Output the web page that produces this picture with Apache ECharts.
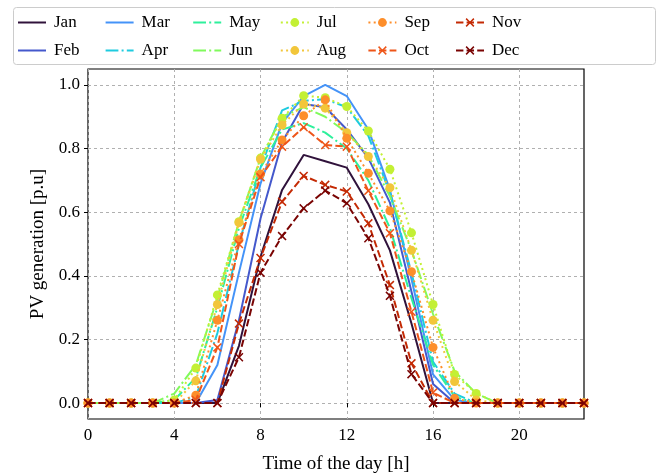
<!DOCTYPE html>
<html lang="en">
<head>
    <meta charset="utf-8">
    <title>PV generation by month</title>
    <script src="https://cdn.jsdelivr.net/npm/echarts@6/dist/echarts.min.js"></script>
    <style>
        html, body { margin: 0; padding: 0; background: #fff; }
        #main { width: 663px; height: 473px; }
    </style>
</head>
<body>
<div id="main"></div>
<script>
    // hour of the day (x values)
    var hours = [0, 1, 2, 3, 4, 5, 6, 7, 8, 9, 10, 11, 12, 13, 14, 15, 16, 17, 18, 19, 20, 21, 22, 23];
    var xTicks = [0, 4, 8, 12, 16, 20];
    var yTicks = [0, 0.2, 0.4, 0.6, 0.8, 1.0];
    var months = ['Jan', 'Feb', 'Mar', 'Apr', 'May', 'Jun', 'Jul', 'Aug', 'Sep', 'Oct', 'Nov', 'Dec'];

    // PV generation [p.u]
    var jan = [0, 0, 0, 0, 0, 0, 0, 0.18, 0.46, 0.67, 0.78, 0.76, 0.74, 0.625, 0.48, 0.25, 0, 0, 0, 0, 0, 0, 0, 0];
    var feb = [0, 0, 0, 0, 0, 0, 0.01, 0.26, 0.58, 0.82, 0.94, 0.93, 0.86, 0.77, 0.63, 0.35, 0.06, 0, 0, 0, 0, 0, 0, 0];
    var mar = [0, 0, 0, 0, 0, 0, 0.12, 0.41, 0.69, 0.88, 0.965, 1.0, 0.965, 0.86, 0.67, 0.39, 0.09, 0.01, 0, 0, 0, 0, 0, 0];
    var apr = [0, 0, 0, 0, 0, 0.02, 0.22, 0.5, 0.74, 0.92, 0.95, 0.955, 0.93, 0.84, 0.66, 0.41, 0.13, 0.03, 0, 0, 0, 0, 0, 0];
    var may = [0, 0, 0, 0, 0.01, 0.08, 0.3, 0.55, 0.74, 0.86, 0.88, 0.85, 0.8, 0.7, 0.55, 0.33, 0.12, 0.02, 0, 0, 0, 0, 0, 0];
    var jun = [0, 0, 0, 0, 0.03, 0.12, 0.33, 0.57, 0.77, 0.9, 0.93, 0.9, 0.85, 0.78, 0.65, 0.48, 0.28, 0.1, 0.03, 0, 0, 0, 0, 0];
    var jul = [0, 0, 0, 0, 0.01, 0.11, 0.34, 0.57, 0.77, 0.895, 0.966, 0.96, 0.932, 0.855, 0.735, 0.535, 0.31, 0.09, 0.03, 0, 0, 0, 0, 0];
    var aug = [0, 0, 0, 0, 0, 0.07, 0.31, 0.567, 0.766, 0.874, 0.94, 0.927, 0.85, 0.775, 0.677, 0.48, 0.26, 0.068, 0.01, 0, 0, 0, 0, 0];
    var sep = [0, 0, 0, 0, 0, 0.025, 0.26, 0.513, 0.72, 0.827, 0.903, 0.953, 0.832, 0.722, 0.604, 0.413, 0.175, 0.015, 0, 0, 0, 0, 0, 0];
    var oct = [0, 0, 0, 0, 0, 0.01, 0.175, 0.5, 0.71, 0.806, 0.867, 0.811, 0.806, 0.667, 0.534, 0.287, 0.033, 0, 0, 0, 0, 0, 0, 0];
    var nov = [0, 0, 0, 0, 0, 0, 0, 0.25, 0.456, 0.633, 0.714, 0.686, 0.665, 0.565, 0.371, 0.125, 0, 0, 0, 0, 0, 0, 0, 0];
    var dec = [0, 0, 0, 0, 0, 0, 0, 0.144, 0.41, 0.525, 0.612, 0.668, 0.628, 0.518, 0.337, 0.091, 0, 0, 0, 0, 0, 0, 0, 0];

    var allData = [jan, feb, mar, apr, may, jun, jul, aug, sep, oct, nov, dec];
    var colors = ['#30123b', '#4458cc', '#4493f8', '#1ecbdf', '#2ef09c', '#80fa5c',
                  '#c3f034', '#f2c63a', '#fd8e2b', '#ee5518', '#c42a04', '#7a0403'];

    // matplotlib-like dash patterns (lw 2)
    var DASHDOT = [12.8, 3.2, 2, 3.2];
    var DOTTED = [2, 3.3];
    var DASHED = [7.4, 3.2];
    var XMARK = 'path://M0,1.2L1.2,0L5,3.8L8.8,0L10,1.2L6.2,5L10,8.8L8.8,10L5,6.2L1.2,10L0,8.8L3.8,5Z';

    function styleFor(i) {
        if (i < 3) return { type: 'solid', symbol: 'none' };
        if (i < 6) return { type: DASHDOT, symbol: 'none' };
        if (i < 9) return { type: DOTTED, symbol: 'circle', size: 9 };
        return { type: DASHED, symbol: XMARK, size: 9 };
    }

    var series = months.map(function (m, i) {
        var st = styleFor(i);
        return {
            name: m,
            type: 'line',
            data: hours.map(function (h, k) { return [h, allData[i][k]]; }),
            symbol: st.symbol,
            symbolSize: st.size || 0,
            showSymbol: st.symbol !== 'none',
            color: colors[i],
            lineStyle: { width: 2, type: st.type, color: colors[i] },
            itemStyle: { color: colors[i], borderWidth: 0 },
            emphasis: { disabled: true },
            animation: false,
            z: 2 + i
        };
    });

    var font = '"Liberation Serif", "DejaVu Serif", serif';

    // six legend columns, two months each
    var legendCols = [];
    for (var c = 0; c < 6; c++) {
        var items = [months[2 * c], months[2 * c + 1]].map(function (m) {
            var idx = months.indexOf(m);
            // months drawn without markers: hide the legend symbol
            return idx < 6 ? { name: m, itemStyle: { opacity: 0 } } : { name: m };
        });
        legendCols.push({
            data: items,
            orient: 'vertical',
            left: 17 + c * 87.6,
            top: 14,
            itemWidth: 28,
            itemHeight: 11,
            itemGap: 11,
            padding: 0,
            selectedMode: false,
            textStyle: { fontFamily: font, fontSize: 17, color: '#000', padding: [0, 0, 0, 3] }
        });
    }

    var myChart = echarts.init(document.getElementById('main'));
    var option = {
        backgroundColor: '#fff',
        animation: false,
        graphic: [{
            type: 'rect',
            left: 13, top: 7,
            shape: { width: 642, height: 57, r: 3 },
            style: { fill: 'rgba(255,255,255,0.8)', stroke: '#cccccc', lineWidth: 1 },
            z: -1
        }],
        legend: legendCols,
        grid: {
            left: 88, right: 79, top: 69, bottom: 54,
            outerBoundsMode: 'none',
            show: true, borderColor: '#000', borderWidth: 1.2
        },
        xAxis: {
            type: 'value',
            min: 0, max: 23,
            name: 'Time of the day [h]',
            nameLocation: 'middle',
            nameGap: 36,
            nameTextStyle: { fontFamily: font, fontSize: 19, color: '#000' },
            axisLine: { show: false },
            axisTick: { show: true, inside: false, length: 4, customValues: xTicks, lineStyle: { color: '#000' } },
            axisLabel: { customValues: xTicks, fontFamily: font, fontSize: 17, color: '#000', margin: 8 },
            splitLine: { show: true, lineStyle: { color: '#b0b0b0', type: [3, 3], width: 1 } }
        },
        yAxis: {
            type: 'value',
            min: -0.05, max: 1.05,
            name: 'PV generation [p.u]',
            nameLocation: 'middle',
            nameGap: 39,
            nameTextStyle: { fontFamily: font, fontSize: 19, color: '#000' },
            axisLine: { show: false },
            axisTick: { show: true, inside: false, length: 4, customValues: yTicks, lineStyle: { color: '#000' } },
            axisLabel: {
                customValues: yTicks, fontFamily: font, fontSize: 17, color: '#000', margin: 8,
                formatter: function (v) { return v.toFixed(1); }
            },
            splitLine: { show: true, lineStyle: { color: '#b0b0b0', type: [3, 3], width: 1 } }
        },
        series: series
    };
    myChart.setOption(option);
</script>
</body>
</html>
